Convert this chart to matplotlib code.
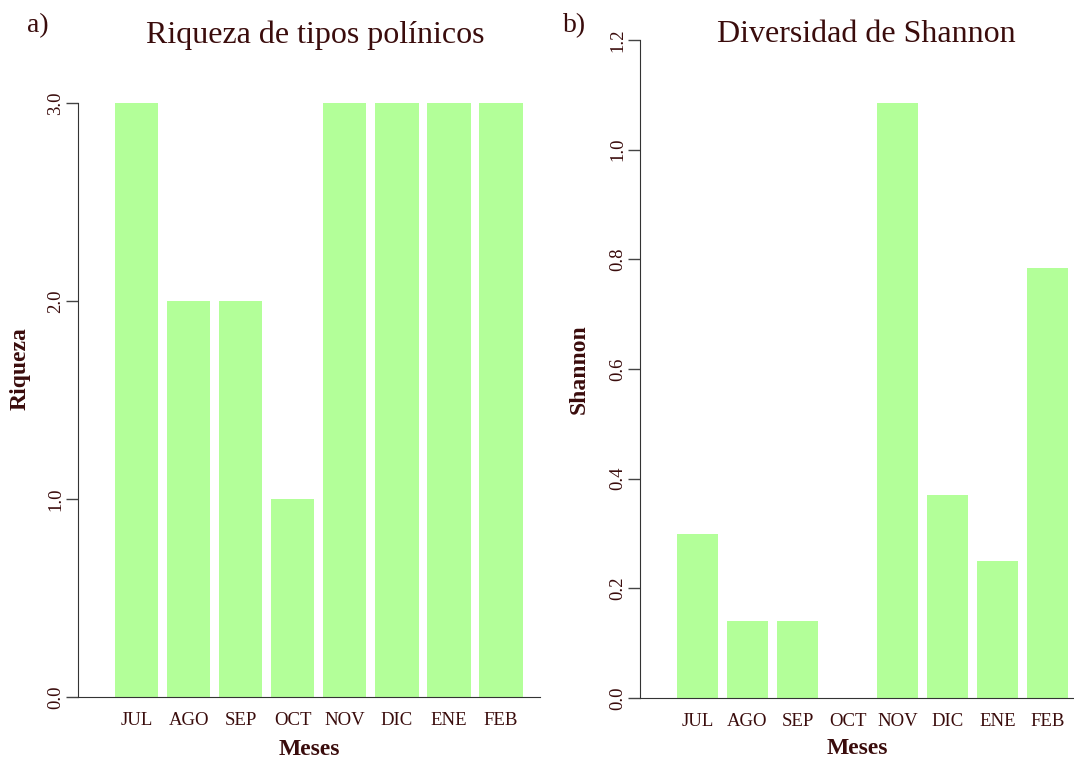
import matplotlib
matplotlib.use("Agg")
import matplotlib.pyplot as plt
import numpy as np

meses = ["JUL", "AGO", "SEP", "OCT", "NOV", "DIC", "ENE", "FEB"]
riqueza = [3, 2, 2, 1, 3, 3, 3, 3]
shannon = [0.30, 0.14, 0.14, 0.0, 1.085, 0.37, 0.25, 0.785]
riqueza_ticks = [0.0, 1.0, 2.0, 3.0]
shannon_ticks = [0.0, 0.2, 0.4, 0.6, 0.8, 1.0, 1.2]

txt = "#3a0c0c"
bar_c = "#b3ff99"
plt.rcParams['font.family'] = ['Liberation Serif', 'DejaVu Serif']

fig = plt.figure(figsize=(10.74, 7.6), dpi=100)

def panel(rect, vals, ticks, ylim, xlim, ylabel, title, letter, letter_x, title_x, ypad, ylpad, xlpad):
    ax = fig.add_axes(rect)
    x = np.arange(len(vals))
    ax.bar(x, vals, width=0.83, color=bar_c, edgecolor='none')
    ax.set_xlim(*xlim)
    ax.set_ylim(*ylim)
    ax.set_xticks(x)
    ax.set_xticklabels(meses, fontsize=13.5, color=txt)
    ax.tick_params(axis='x', length=0, pad=11)
    ax.set_yticks(ticks)
    ax.set_yticklabels([f"{t:.1f}" for t in ticks], fontsize=13.5, color=txt,
                       rotation=90, va='center')
    ax.tick_params(axis='y', length=9, width=1, color='#444444', pad=ypad)
    for s in ['top', 'right']:
        ax.spines[s].set_visible(False)
    ax.spines['left'].set_bounds(ticks[0], ticks[-1])
    ax.spines['left'].set_color('#333333')
    ax.spines['bottom'].set_color('#333333')
    ax.set_xlabel("Meses", fontsize=17, fontweight='bold', color=txt, labelpad=xlpad)
    ax.set_ylabel(ylabel, fontsize=17, fontweight='bold', color=txt, labelpad=ylpad)
    fig.text(title_x, 1 - 35 / 760, title, fontsize=23, color=txt, ha='center', va='center')
    fig.text(letter_x, 1 - 26 / 760, letter, fontsize=20, color=txt, ha='center', va='center')
    return ax

panel([78 / 1074, 1 - 697 / 760, 462 / 1074, 657 / 760], riqueza, riqueza_ticks,
      (0, 3.32), (-1.13, 7.75), "Riqueza", "Riqueza de tipos polínicos", "a)",
      38 / 1074, 315 / 1074, 1, 12, 7)
panel([640 / 1074, 1 - 698 / 760, 434 / 1074, 658 / 760], shannon, shannon_ticks,
      (0, 1.2), (-1.15, 7.53), "Shannon", "Diversidad de Shannon", "b)",
      575 / 1074, 866 / 1074, 1, 14, 5.5)

fig.savefig("out.png", dpi=100)
